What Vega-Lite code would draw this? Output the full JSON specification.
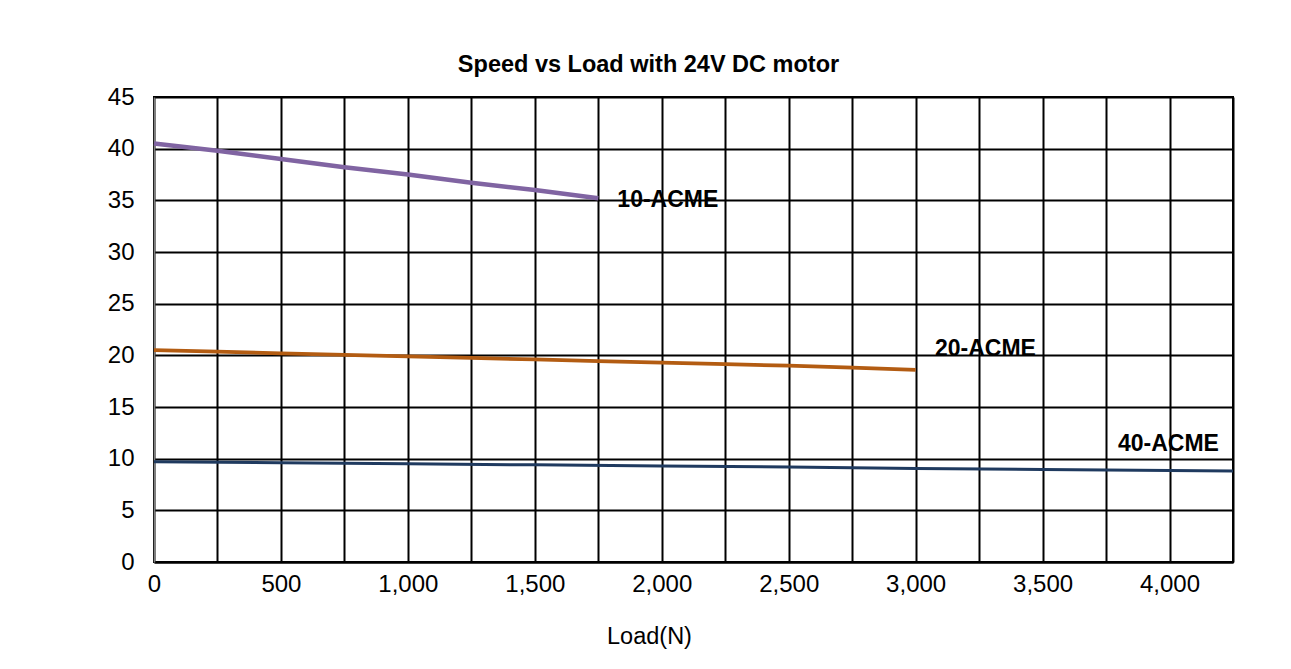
{
  "$schema": "https://vega.github.io/schema/vega-lite/v6.json",
  "autosize": {"type": "none"},
  "width": 1079,
  "height": 465,
  "padding": {"left": 154, "top": 97, "right": 58, "bottom": 107},
  "background": "white",
  "config": {
    "font": "Liberation Sans",
    "view": {"stroke": "black", "strokeWidth": 2}
  },
  "title": {
    "text": "Speed vs Load with 24V DC motor",
    "font": "Liberation Sans",
    "fontSize": 23.5,
    "fontWeight": "bold",
    "color": "black",
    "anchor": "middle",
    "dx": -45,
    "dy": 35,
    "baseline": "alphabetic",
    "offset": 25
  },
  "datasets": {
    "lines": [
      {"series": "10-ACME", "load": 0, "speed": 40.5},
      {"series": "10-ACME", "load": 250, "speed": 39.8},
      {"series": "10-ACME", "load": 500, "speed": 39.0},
      {"series": "10-ACME", "load": 750, "speed": 38.2},
      {"series": "10-ACME", "load": 1000, "speed": 37.5},
      {"series": "10-ACME", "load": 1250, "speed": 36.7},
      {"series": "10-ACME", "load": 1500, "speed": 36.0},
      {"series": "10-ACME", "load": 1750, "speed": 35.2},
      {"series": "20-ACME", "load": 0, "speed": 20.5},
      {"series": "20-ACME", "load": 250, "speed": 20.35},
      {"series": "20-ACME", "load": 500, "speed": 20.2},
      {"series": "20-ACME", "load": 750, "speed": 20.05},
      {"series": "20-ACME", "load": 1000, "speed": 19.9},
      {"series": "20-ACME", "load": 1250, "speed": 19.75},
      {"series": "20-ACME", "load": 1500, "speed": 19.6},
      {"series": "20-ACME", "load": 1750, "speed": 19.45},
      {"series": "20-ACME", "load": 2000, "speed": 19.3},
      {"series": "20-ACME", "load": 2250, "speed": 19.15},
      {"series": "20-ACME", "load": 2500, "speed": 19.0},
      {"series": "20-ACME", "load": 2750, "speed": 18.8},
      {"series": "20-ACME", "load": 3000, "speed": 18.6},
      {"series": "40-ACME", "load": 0, "speed": 9.7},
      {"series": "40-ACME", "load": 500, "speed": 9.6},
      {"series": "40-ACME", "load": 1000, "speed": 9.5},
      {"series": "40-ACME", "load": 1500, "speed": 9.4},
      {"series": "40-ACME", "load": 2000, "speed": 9.3},
      {"series": "40-ACME", "load": 2500, "speed": 9.2},
      {"series": "40-ACME", "load": 3000, "speed": 9.05},
      {"series": "40-ACME", "load": 3500, "speed": 8.95},
      {"series": "40-ACME", "load": 4000, "speed": 8.85},
      {"series": "40-ACME", "load": 4250, "speed": 8.8}
    ],
    "labels": [
      {"series": "10-ACME", "load": 1825, "speed": 34.4},
      {"series": "20-ACME", "load": 3076, "speed": 19.9},
      {"series": "40-ACME", "load": 3797, "speed": 10.77}
    ]
  },
  "layer": [
    {
      "data": {"name": "lines"},
      "mark": {"type": "line", "strokeCap": "butt"},
      "encoding": {
        "x": {
          "field": "load",
          "type": "quantitative",
          "scale": {"domain": [0, 4250], "nice": false, "zero": true},
          "axis": {
            "values": [0, 250, 500, 750, 1000, 1250, 1500, 1750, 2000, 2250, 2500, 2750, 3000, 3250, 3500, 3750, 4000, 4250],
            "labelExpr": "datum.value % 500 === 0 ? format(datum.value, ',') : ''",
            "labelFont": "Liberation Sans",
            "labelFontSize": 24,
            "labelColor": "black",
            "labelPadding": 10,
            "labelOverlap": false,
            "labelFlush": false,
            "ticks": false,
            "grid": true,
            "gridColor": "black",
            "gridWidth": 2,
            "gridOpacity": 1,
            "domainColor": "black",
            "domainWidth": 2,
            "title": "Load(N)",
            "titleFont": "Liberation Sans",
            "titleFontSize": 23.5,
            "titleFontWeight": "normal",
            "titleColor": "black",
            "titleX": 495,
            "titleY": 81,
            "titleAlign": "center",
            "titleBaseline": "alphabetic"
          }
        },
        "y": {
          "field": "speed",
          "type": "quantitative",
          "scale": {"domain": [0, 45], "nice": false},
          "axis": {
            "values": [0, 5, 10, 15, 20, 25, 30, 35, 40, 45],
            "labelFont": "Liberation Sans",
            "labelFontSize": 24,
            "labelColor": "black",
            "labelPadding": 20,
            "labelFlush": false,
            "ticks": false,
            "grid": true,
            "gridColor": "black",
            "gridWidth": 2,
            "gridOpacity": 1,
            "domainColor": "#808080",
            "domainWidth": 1.5,
            "title": null
          }
        },
        "color": {
          "field": "series",
          "type": "nominal",
          "scale": {"domain": ["10-ACME", "20-ACME", "40-ACME"], "range": ["#8064A2", "#B35C12", "#1F3A5F"]},
          "legend": null
        },
        "strokeWidth": {
          "field": "series",
          "type": "nominal",
          "scale": {"domain": ["10-ACME", "20-ACME", "40-ACME"], "range": [4.5, 3, 3]},
          "legend": null
        }
      }
    },
    {
      "data": {"name": "labels"},
      "mark": {"type": "text", "align": "left", "baseline": "alphabetic", "font": "Liberation Sans", "fontSize": 23, "fontWeight": "bold", "color": "black"},
      "encoding": {
        "x": {"field": "load", "type": "quantitative"},
        "y": {"field": "speed", "type": "quantitative"},
        "text": {"field": "series"}
      }
    }
  ]
}
